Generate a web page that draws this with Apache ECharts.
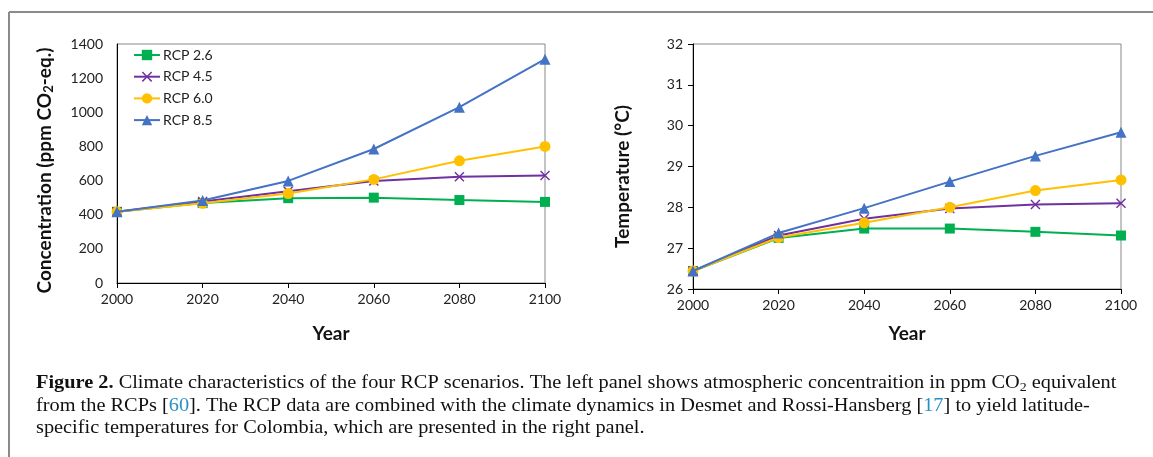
<!DOCTYPE html>
<html>
<head>
<meta charset="utf-8">
<script src="https://cdn.jsdelivr.net/npm/echarts@6/dist/echarts.min.js"></script>
<style>
  html, body { margin: 0; padding: 0; background: #fff; }
  #chart { width: 1153px; height: 457px; }
</style>
</head>
<body>
<div id="chart"></div>
<script>
// years on both x axes
const years = ['2000', '2020', '2040', '2060', '2080', '2100'];

// left panel: concentration, ppm CO2-eq.
const conc26 = [417, 468, 497, 500, 486, 475];
const conc45 = [417, 478, 538, 598, 623, 630];
const conc60 = [417, 467, 524, 607, 716, 800];
const conc85 = [417, 483, 598, 785, 1030, 1311];

// right panel: temperature, deg C
const temp26 = [26.44, 27.25, 27.48, 27.48, 27.40, 27.31];
const temp45 = [26.44, 27.31, 27.72, 27.97, 28.07, 28.10];
const temp60 = [26.44, 27.26, 27.62, 28.00, 28.41, 28.67];
const temp85 = [26.44, 27.37, 27.98, 28.63, 29.26, 29.84];

const names = ['RCP 2.6', 'RCP 4.5', 'RCP 6.0', 'RCP 8.5'];
const colors = ['#00b050', '#7030a0', '#ffc000', '#4472c4'];
const crossPath = 'path://M0,1L1,0L5,4L9,0L10,1L6,5L10,9L9,10L5,6L1,10L0,9L4,5Z';
const symbols = ['rect', crossPath, 'circle', 'triangle'];
const sizes = [10, 10, 11, 11];

const font = 'Lato, "Open Sans", sans-serif';
const serif = '"Liberation Serif", "DejaVu Serif", serif';

const chart = echarts.init(document.getElementById('chart'), null, { renderer: 'canvas' });

function xAxisFor(gridIndex, gap) {
  return {
    type: 'category',
    gridIndex: gridIndex,
    data: years,
    boundaryGap: false,
    name: 'Year',
    nameLocation: 'middle',
    nameGap: gap,
    nameTextStyle: { fontFamily: font, fontSize: 19, fontWeight: 'bold', color: '#111' },
    axisLine: { lineStyle: { color: '#000', width: 1 } },
    axisTick: { show: true, inside: false, length: 5, alignWithLabel: true, lineStyle: { color: '#000' } },
    axisLabel: { fontFamily: font, fontSize: 14, color: '#222', margin: 9 },
    splitLine: { show: false }
  };
}

function makeSeries(data, i, axisIdx) {
  return {
    name: names[i],
    type: 'line',
    xAxisIndex: axisIdx,
    yAxisIndex: axisIdx,
    data: data,
    symbol: symbols[i],
    symbolSize: sizes[i],
    showAllSymbol: true,
    lineStyle: { color: colors[i], width: 2 },
    itemStyle: { color: colors[i] },
    emphasis: { disabled: true },
    z: 2 + i
  };
}

const option = {
  animation: false,
  grid: [
    { left: 117, top: 44, width: 428, height: 239, show: true, borderColor: '#888', borderWidth: 1, backgroundColor: 'transparent' },
    { left: 693, top: 44, width: 428, height: 245, show: true, borderColor: '#888', borderWidth: 1, backgroundColor: 'transparent' }
  ],
  legend: {
    data: names,
    orient: 'vertical',
    left: 128,
    top: 43,
    itemGap: 7.7,
    itemWidth: 26,
    itemHeight: 13,
    textStyle: { fontFamily: font, fontSize: 14, color: '#222', padding: [0, 0, 0, -2] },
    selectedMode: false
  },
  xAxis: [xAxisFor(0, 41), xAxisFor(1, 35)],
  yAxis: [
    {
      type: 'value',
      gridIndex: 0,
      min: 0, max: 1400, interval: 200,
      name: 'Concentration (ppm CO{sub|2}-eq.)',
      nameLocation: 'middle',
      nameGap: 62,
      nameTextStyle: {
        fontFamily: font, fontSize: 19, fontWeight: 'bold', color: '#111',
        padding: [0, 14, 0, 0],
        rich: { sub: { fontFamily: font, fontSize: 13, fontWeight: 'bold', color: '#111', verticalAlign: 'bottom', padding: [7, 0, 0, 0] } }
      },
      axisLine: { show: true, lineStyle: { color: '#000' } },
      axisTick: { show: false },
      axisLabel: { fontFamily: font, fontSize: 14, color: '#222', margin: 14, formatter: v => String(v) },
      splitLine: { show: false }
    },
    {
      type: 'value',
      gridIndex: 1,
      min: 26, max: 32, interval: 1,
      name: 'Temperature (°C)',
      nameLocation: 'middle',
      nameGap: 61,
      nameTextStyle: { fontFamily: font, fontSize: 19, fontWeight: 'bold', color: '#111', padding: [0, 20, 0, 0] },
      axisLine: { show: true, lineStyle: { color: '#000' } },
      axisTick: { show: true, inside: false, length: 5, lineStyle: { color: '#000' } },
      axisLabel: { fontFamily: font, fontSize: 14, color: '#222', margin: 10, formatter: v => String(v) },
      splitLine: { show: false }
    }
  ],
  series: [
    makeSeries(conc26, 0, 0), makeSeries(conc45, 1, 0), makeSeries(conc60, 2, 0), makeSeries(conc85, 3, 0),
    makeSeries(temp26, 0, 1), makeSeries(temp45, 1, 1), makeSeries(temp60, 2, 1), makeSeries(temp85, 3, 1)
  ],
  graphic: [
    // figure frame (top and left edges visible)
    { type: 'line', shape: { x1: 9, y1: 12, x2: 1153, y2: 12 }, style: { stroke: '#8a8a8a', lineWidth: 2 }, silent: true },
    { type: 'line', shape: { x1: 9, y1: 12, x2: 9, y2: 457 }, style: { stroke: '#8a8a8a', lineWidth: 2 }, silent: true },
    {
      type: 'text', x: 36, y: 372, silent: true,
      scaleX: 1.07,
      style: {
        text: '{b|Figure 2.} Climate characteristics of the four RCP scenarios. The left panel shows atmospheric concentraition in ppm CO{s|2} equivalent\n' +
              'from the RCPs [{c|60}]. The RCP data are combined with the climate dynamics in Desmet and Rossi-Hansberg [{c|17}] to yield latitude-\n' +
              'specific temperatures for Colombia, which are presented in the right panel.',
        font: '19px ' + serif,
        fill: '#111',
        lineHeight: 22.5,
        rich: {
          b: { fontFamily: serif, fontSize: 19, fontWeight: 'bold', fill: '#111' },
          s: { fontFamily: serif, fontSize: 13, fill: '#111', verticalAlign: 'bottom', padding: [8, 0, 0, 0] },
          c: { fontFamily: serif, fontSize: 19, fill: '#2a8fc8' }
        }
      }
    }
  ]
};

chart.setOption(option);
window.addEventListener('resize', () => chart.resize());
</script>
</body>
</html>
